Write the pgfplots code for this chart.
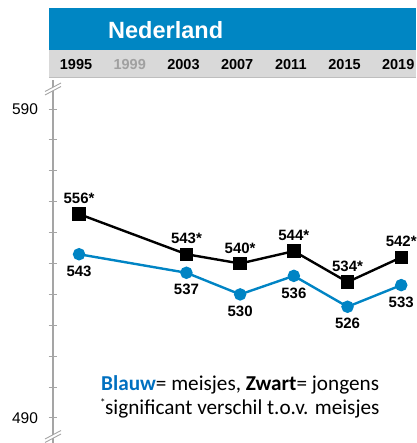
\documentclass[border=0pt]{standalone}
\usepackage{pgfplots}
\pgfplotsset{compat=1.18}
\usepackage{fontspec}
\setmainfont{Liberation Sans}
\newfontfamily\calibri{Carlito}
\definecolor{banner}{RGB}{0,134,195}
\definecolor{band}{RGB}{217,217,217}
\definecolor{bandline}{RGB}{190,190,190}
\definecolor{lineblue}{RGB}{0,132,196}
\definecolor{legblue}{RGB}{0,112,192}
\definecolor{axisgray}{RGB}{165,165,165}
\definecolor{yeargray}{RGB}{160,160,160}
\begin{document}
\begin{tikzpicture}[x=1pt,y=1pt]
\useasboundingbox (0,0) rectangle (416,443);
% banner and year band
\fill[banner] (49,392.5) rectangle (416,435);
\fill[band] (49,366) rectangle (416,392.5);
\draw[bandline, line width=0.8pt] (49,366) -- (416,366);
\node[anchor=base west, text=white, inner sep=0pt, font=\bfseries\fontsize{23.5}{26}\selectfont] at (108,404.3) {Nederland};
\begin{axis}[
  at={(53pt,0pt)}, anchor=south west,
  scale only axis, width=363pt, height=363pt,
  xmin=1993.06, xmax=2020.1, ymin=481.9, ymax=599.4,
  axis y line=left, axis x line=none,
  y axis line style={draw=axisgray, line width=1.3pt, -},
  ytick={490,500,...,590},
  yticklabels={490,{},{},{},{},{},{},{},{},{},590},
  ytick style={draw=axisgray, line width=1pt},
  major tick length=9pt, tick align=center,
  yticklabel style={font=\fontsize{15.5}{18}\selectfont, xshift=-7pt},
  clip=false,
  nodes near coords={\pgfplotspointmeta},
  point meta=explicit symbolic,
  every node near coord/.append style={font=\bfseries\fontsize{15}{17}\selectfont, anchor=center, inner sep=0pt},
]
% boys (black)
\addplot[black, line width=2.4pt, mark=square*, mark size=5.5pt,
  every node near coord/.append style={yshift=15.5pt}]
  coordinates {(1995,556) [556*] (2003,543) [543*] (2007,540) [540*] (2011,544) [544*] (2015,534) [534*] (2019,542) [542*]};
% girls (blue)
\addplot[lineblue, line width=2.4pt, mark=*, mark size=5pt,
  every node near coord/.append style={yshift=-17pt, text=black}]
  coordinates {(1995,543) [543] (2003,537) [537] (2007,530) [530] (2011,536) [536] (2015,526) [526] (2019,533) [533]};
% year labels
\foreach \yr in {1995,2003,2007,2011,2015,2019}{
  \edef\temp{\noexpand\node[anchor=base, inner sep=0pt, xshift=-3pt, yshift=10.7pt, font=\noexpand\bfseries\noexpand\fontsize{14.5}{16}\noexpand\selectfont] at (axis cs:\yr,599.4) {\yr};}
  \temp
}
\node[anchor=base, inner sep=0pt, xshift=-3pt, yshift=10.7pt, text=yeargray, font=\bfseries\fontsize{14.5}{16}\selectfont] at (axis cs:1999,599.4) {1999};
\end{axis}
% axis breaks
\fill[white] (45,348) -- (61,356.5) -- (61,360) -- (45,351.5) -- cycle;
\draw[axisgray, line width=0.9pt] (45,348) -- (61,356.5) (45,351.5) -- (61,360);
\fill[white] (45,0.5) -- (61,9) -- (61,12.5) -- (45,4) -- cycle;
\draw[axisgray, line width=0.9pt] (45,0.5) -- (61,9) (45,4) -- (61,12.5);
% legend text
\node[anchor=base west, inner sep=0pt, font=\calibri\fontsize{21.2}{24}\selectfont] at (101,52.3)
  {\textcolor{legblue}{\bfseries Blauw}= meisjes, {\bfseries Zwart}= jongens};
\node[anchor=base west, inner sep=0pt, font=\calibri\fontsize{21.2}{24}\selectfont] at (100,28)
  {\raisebox{8pt}{\fontsize{11}{12}\selectfont *}\kern-0.5pt significant verschil t.o.v. meisjes};
\end{tikzpicture}
\end{document}
